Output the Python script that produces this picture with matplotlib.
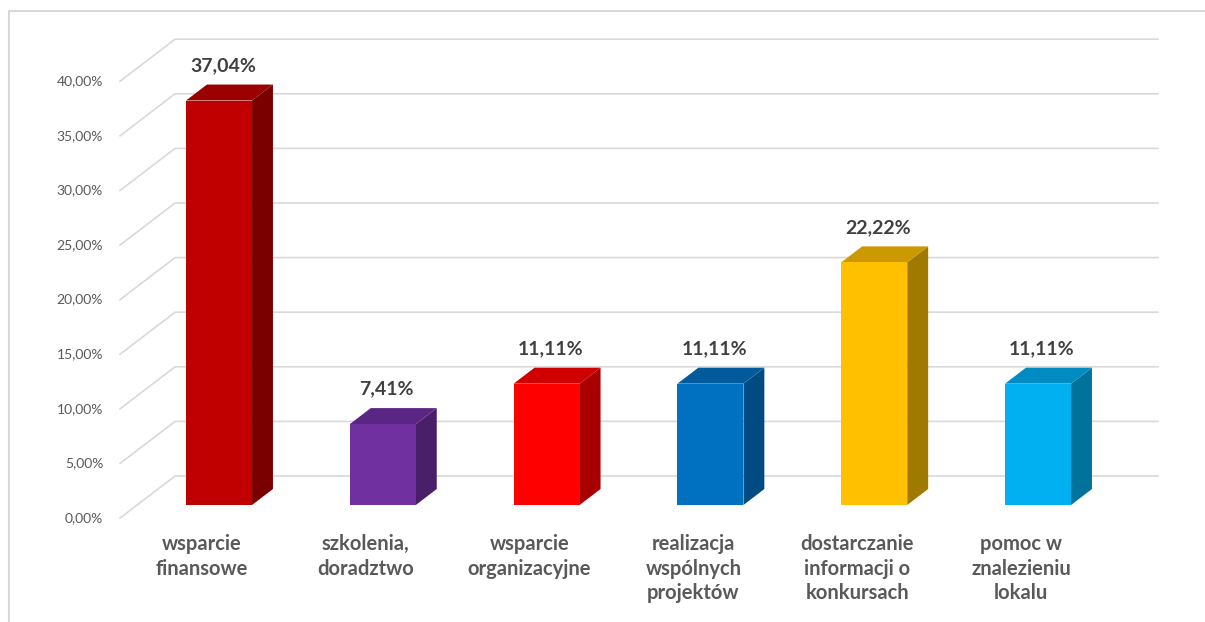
import matplotlib.pyplot as plt
from matplotlib.patches import Polygon

# data
categories = ["wsparcie\nfinansowe", "szkolenia,\ndoradztwo", "wsparcie\norganizacyjne",
              "realizacja\nwspólnych\nprojektów", "dostarczanie\ninformacji o\nkonkursach",
              "pomoc w\nznalezieniu\nlokalu"]
values = [37.04, 7.41, 11.11, 11.11, 22.22, 11.11]
labels = ["37,04%", "7,41%", "11,11%", "11,11%", "22,22%", "11,11%"]
yticks = [0, 5, 10, 15, 20, 25, 30, 35, 40]
ytick_labels = ["0,00%", "5,00%", "10,00%", "15,00%", "20,00%", "25,00%", "30,00%", "35,00%", "40,00%"]

front_colors = ["#C00000", "#7030A0", "#FF0000", "#0070C0", "#FFC000", "#00B0F0"]
top_colors = ["#9A0000", "#5B2683", "#D00000", "#005A9C", "#CC9A00", "#008CC2"]
side_colors = ["#7A0000", "#4A1F6A", "#A80000", "#004B82", "#A07A00", "#00729C"]

plt.rcParams['font.family'] = ['Lato', 'DejaVu Sans']

fig = plt.figure(figsize=(12.05, 6.22), dpi=100)
ax = fig.add_axes([0, 0, 1, 1])

# pixel geometry of the oblique projection (front plane)
PX_CAT = 163.8      # px per category
PX_PCT = 10.92      # px per percent
X0, Y0 = 202, 518   # pixel of category 0 / 0% at front plane
ax.set_xlim(-X0 / PX_CAT, (1205 - X0) / PX_CAT)
ax.set_ylim((Y0 - 622) / PX_PCT, Y0 / PX_PCT)
ax.axis("off")

# depth offset per unit of depth in data units
DX = 55 / PX_CAT
DY = 42 / PX_PCT

def pt(x, y, t):
    return (x + DX * t, y + DY * t)

grid_c = "#D9D9D9"
left, right = -0.5, len(values) - 0.5
for v, lab in zip(yticks, ytick_labels):
    a = pt(left, v, 0)
    b = pt(left, v, 1)
    c = pt(right, v, 1)
    ax.plot([a[0], b[0], c[0]], [a[1], b[1], c[1]], color=grid_c, lw=1.2, zorder=1)
    ax.text(left - 17 / PX_CAT, v, lab, ha="right", va="center",
            fontsize=10, color="#595959")

# outer border (only left and top edges are inside the picture)
bx = (9 - X0) / PX_CAT
by = (Y0 - 11) / PX_PCT
ax.plot([bx, bx, (1300 - X0) / PX_CAT], [(Y0 - 700) / PX_PCT, by, by],
        color="#D9D9D9", lw=1.5, zorder=0)

w = 0.403
t0, t1 = 0.31, 0.69
for i, v in enumerate(values):
    xl, xr = i - w / 2, i + w / 2
    # side face
    side = [pt(xr, 0, t0), pt(xr, 0, t1), pt(xr, v, t1), pt(xr, v, t0)]
    ax.add_patch(Polygon(side, closed=True, fc=side_colors[i], ec="none", zorder=3))
    # top face
    top = [pt(xl, v, t0), pt(xr, v, t0), pt(xr, v, t1), pt(xl, v, t1)]
    ax.add_patch(Polygon(top, closed=True, fc=top_colors[i], ec="none", zorder=3))
    # front face
    front = [pt(xl, 0, t0), pt(xr, 0, t0), pt(xr, v, t0), pt(xl, v, t0)]
    ax.add_patch(Polygon(front, closed=True, fc=front_colors[i], ec="none", zorder=4))
    lx, ly = pt(i, v, t1)
    ax.text(lx - 17 / PX_CAT, ly + 19 / PX_PCT, labels[i], ha="center", va="center",
            fontsize=14, fontweight="bold", color="#404040", zorder=5)
    ax.text(i, -1.45, categories[i], ha="center", va="top", fontsize=14.5,
            fontweight="bold", color="#595959", linespacing=1.3)

fig.savefig("out.png", dpi=100)
